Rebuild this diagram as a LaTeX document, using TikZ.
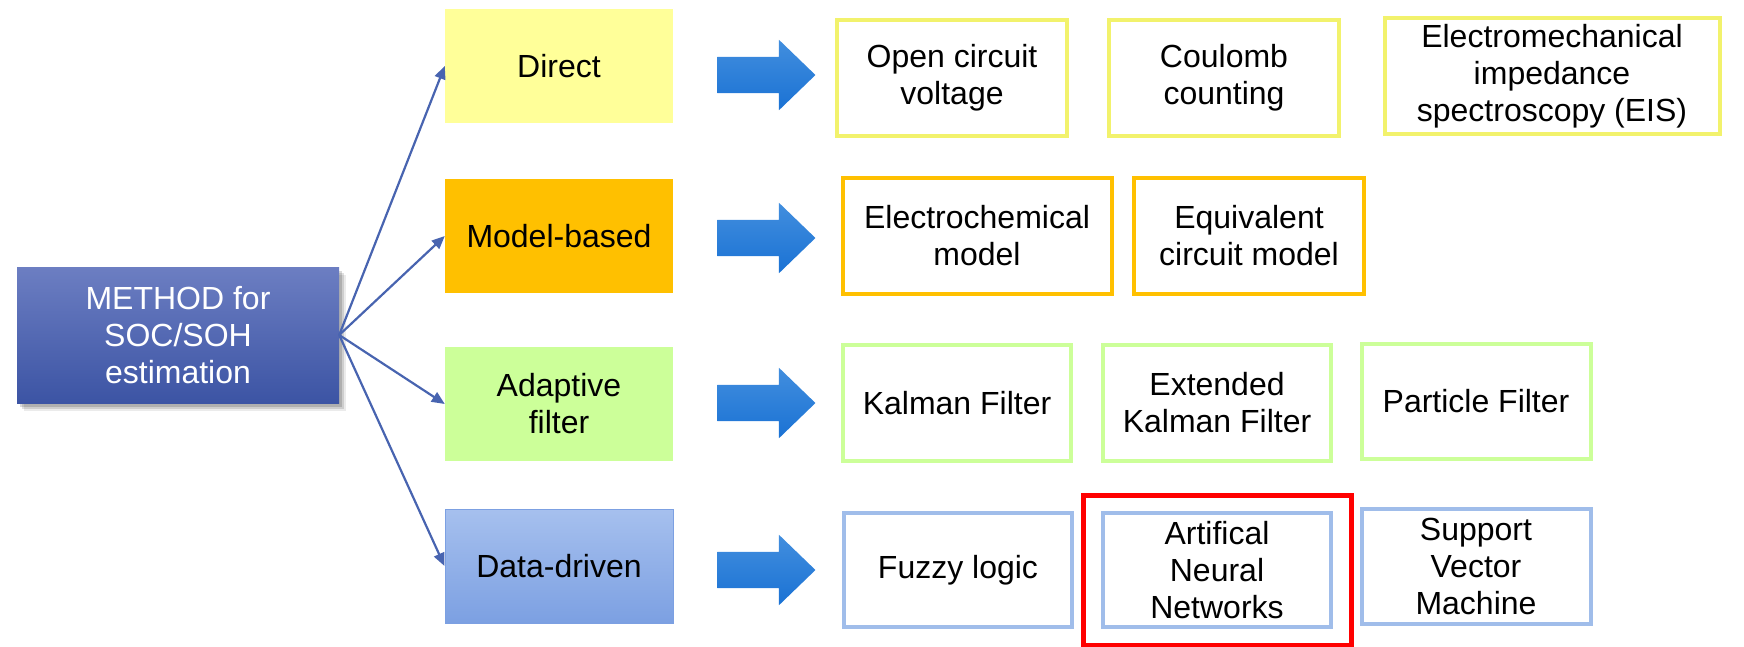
\documentclass[tikz,border=0pt]{standalone}
\usepackage{fontspec}
\setmainfont{Liberation Sans}
\usepackage{tikz}
\usetikzlibrary{arrows.meta, shapes.arrows, shadows, fit}

\definecolor{radice1}{RGB}{108,126,194}
\definecolor{radice2}{RGB}{60,84,164}
\definecolor{linea}{RGB}{72,100,176}
\definecolor{giallo}{RGB}{255,255,153}
\definecolor{giallobordo}{RGB}{242,242,108}
\definecolor{arancio}{RGB}{255,192,0}
\definecolor{verde}{RGB}{204,255,153}
\definecolor{azzurro1}{RGB}{166,192,238}
\definecolor{azzurro2}{RGB}{124,160,226}
\definecolor{azzurrobordo}{RGB}{160,189,234}
\definecolor{freccia1}{RGB}{66,142,222}
\definecolor{freccia2}{RGB}{26,114,212}

\begin{document}
\begin{tikzpicture}[x=1pt, y=-1pt,
  every node/.style={font=\fontsize{32}{37}\selectfont, align=center, inner sep=0pt},
  radice/.style={minimum width=322pt, minimum height=136pt, top color=radice1, bottom color=radice2, text=white,
    drop shadow={shadow xshift=7pt, shadow yshift=-8pt, fill=black, opacity=0.08},
    drop shadow={shadow xshift=5pt, shadow yshift=-6pt, fill=black, opacity=0.12},
    drop shadow={shadow xshift=3pt, shadow yshift=-4pt, fill=black, opacity=0.15}},
  categoria/.style={minimum width=228pt, minimum height=114pt},
  voce/.style={draw, line width=4pt, fill=white, minimum height=116pt},
  blocco/.style={single arrow, single arrow head extend=17pt, single arrow tip angle=88,
    inner xsep=0pt, inner ysep=18pt, minimum width=70pt, minimum height=98pt,
    top color=freccia1, bottom color=freccia2},
  ramo/.style={-{Triangle[length=13pt,width=11pt]}, line width=2.2pt, draw=linea},
  evidenza/.style={draw=red, line width=5pt, inner xsep=18pt, inner ysep=16pt}]

\useasboundingbox (0,0) rectangle (1744,646);

% radice
\node[radice] (root) at (178,335) {METHOD for\\SOC/SOH\\estimation};

% categorie
\node[categoria, fill=giallo] (direct) at (559,66) {Direct};
\node[categoria, fill=arancio] (model) at (559,236) {Model-based};
\node[categoria, fill=verde] (adapt) at (559,404) {Adaptive\\filter};
\node[categoria, top color=azzurro1, bottom color=azzurro2, draw=azzurro2, line width=1pt] (data) at (559,566) {Data-driven};

% rami
\foreach \c in {direct, model, adapt, data}
  \draw[ramo] (root.east) -- (\c.west);

% frecce
\node[blocco] (arr1) at (757,75) {};
\node[blocco] (arr2) at (757,238) {};
\node[blocco] (arr3) at (757,403) {};
\node[blocco] (arr4) at (757,570) {};

% metodi diretti
\node[voce, draw=giallobordo, minimum width=230pt] (ocv) at (952,78) {Open circuit\\voltage};
\node[voce, draw=giallobordo, minimum width=230pt] (cc) at (1224,78) {Coulomb\\counting};
\node[voce, draw=giallobordo, minimum width=335pt] (eis) at (1552,76) {Electromechanical\\impedance\\spectroscopy (EIS)};

% modelli
\node[voce, draw=arancio, minimum width=269pt] (echem) at (977,236) {Electrochemical\\model};
\node[voce, draw=arancio, minimum width=230pt] (ecm) at (1249,236) {Equivalent\\circuit model};

% filtri
\node[voce, draw=verde, minimum width=228pt] (kf) at (957,403) {Kalman Filter};
\node[voce, draw=verde, minimum width=228pt] (ekf) at (1217,403) {Extended\\Kalman Filter};
\node[voce, draw=verde, minimum width=229pt, minimum height=115pt] (pf) at (1476,401) {Particle Filter};

% dati
\node[voce, draw=azzurrobordo, minimum width=228pt, minimum height=114pt] (fuzzy) at (958,570) {Fuzzy logic};
\node[voce, draw=azzurrobordo, minimum width=228pt, minimum height=114pt] (ann) at (1217,570) {Artifical\\Neural\\Networks};
\node[voce, draw=azzurrobordo, minimum width=229pt, minimum height=115pt] (svm) at (1476,566) {Support\\Vector\\Machine};

% evidenziato
\node[evidenza, fit=(ann)] (sel) {};

\end{tikzpicture}
\end{document}
